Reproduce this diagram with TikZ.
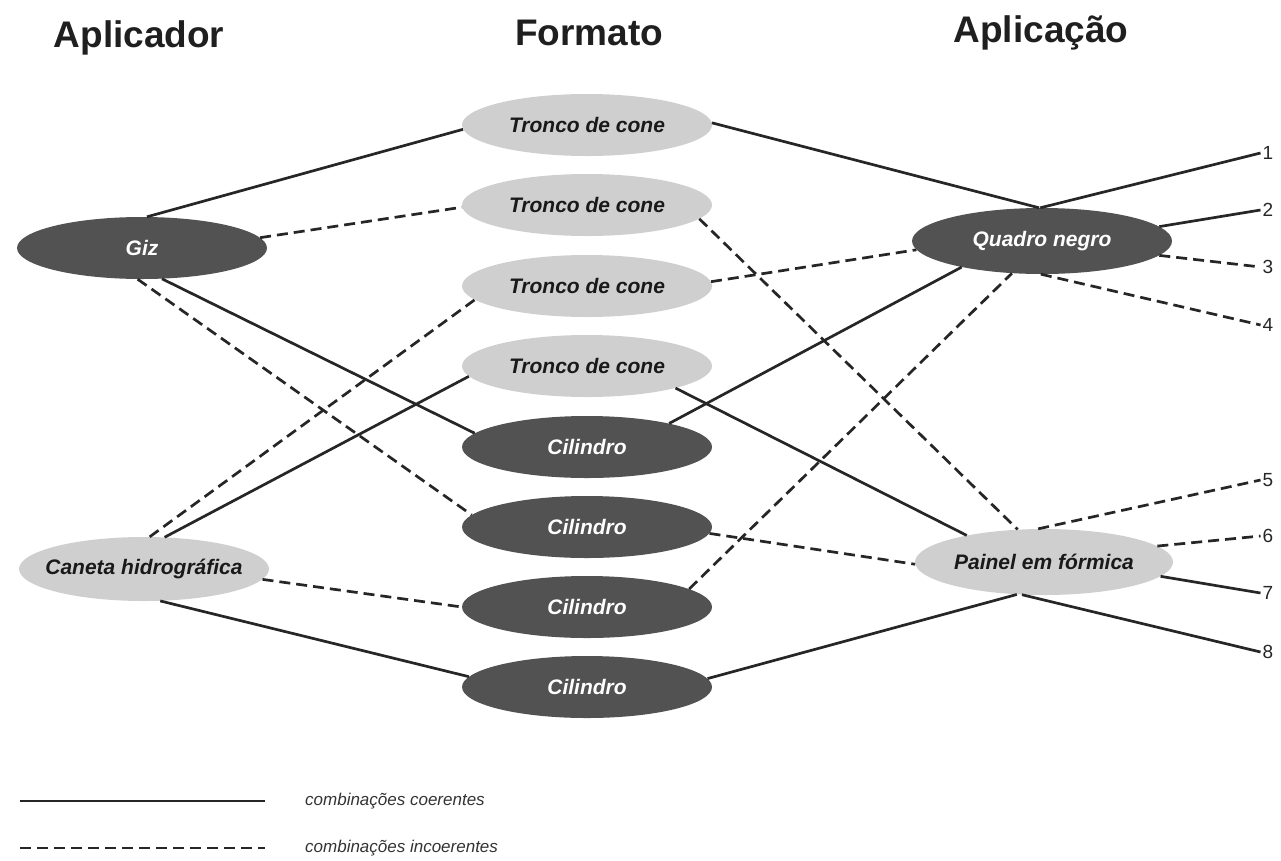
\documentclass[tikz,border=0pt]{standalone}
\usepackage{fontspec}
\setmainfont{Liberation Sans}
\usepackage{tikz}
\usetikzlibrary{shapes.geometric}

\begin{document}
\begin{tikzpicture}[x=1pt,y=-1pt]
	    \tikzstyle{dark}=[draw=none, ellipse, fill=black!68, text=white, minimum width=250pt, minimum height=62pt, inner sep=0pt, font=\fontsize{21}{24}\selectfont\bfseries\itshape]
	    \tikzstyle{light}=[dark, fill=black!19, text=black!90]
	    \tikzstyle{head}=[anchor=base, font=\fontsize{37}{40}\selectfont\bfseries, text=black!88]
	    \tikzstyle{num}=[inner sep=2pt, font=\fontsize{19}{22}\selectfont, text=black!85]
	    \tikzstyle{legtext}=[anchor=west, inner sep=0pt, font=\fontsize{17}{20}\selectfont\itshape, text=black!80]
	    \tikzstyle{coer}=[draw, line width=2.7pt, black!85]
	    \tikzstyle{incoer}=[coer, dash pattern=on 11pt off 6pt]
	    \useasboundingbox (0,0) rectangle (1281,860);
	    \node[head] (h1) at (139,47) {Aplicador};
	    \node[head] (h2) at (589,45) {Formato};
	    \node[head] (h3) at (1041,42) {Aplicação};
	    \node[dark] (giz) at (142,248) {Giz};
	    \node[light, inner xsep=-14pt, minimum height=64pt] (caneta) at (144,569) {Caneta hidrográfica};
	    \node[light] (t1) at (587,125) {Tronco de cone};
	    \node[light] (t2) at (587,205) {Tronco de cone};
	    \node[light] (t3) at (587,286) {Tronco de cone};
	    \node[light] (t4) at (587,366) {Tronco de cone};
	    \node[dark] (c1) at (587,447) {Cilindro};
	    \node[dark] (c2) at (587,527) {Cilindro};
	    \node[dark] (c3) at (587,607) {Cilindro};
	    \node[dark] (c4) at (587,687) {Cilindro};
	    \node[dark, minimum width=260pt, minimum height=66pt] (quadro) at (1042,241) {Quadro negro};
	    \node[light, minimum width=258pt, minimum height=66pt] (painel) at (1044,562) {Painel em fórmica};
	    \node[num] (n1) at (1268,153) {1};
	    \node[num] (n2) at (1268,210) {2};
	    \node[num] (n3) at (1268,267) {3};
	    \node[num] (n4) at (1268,325) {4};
	    \node[num] (n5) at (1268,480) {5};
	    \node[num] (n6) at (1268,536) {6};
	    \node[num] (n7) at (1268,593) {7};
	    \node[num] (n8) at (1268,652) {8};
	    % aplicador - formato
	    \draw[coer] (giz.81) -- (t1.182);
	    \draw[incoer] (giz.5) -- (t2.181);
	    \draw[coer] (giz.-57) -- (c1.173);
	    \draw[incoer] (giz.-98) -- (c2.174);
	    \draw[incoer] (caneta.80) -- (t3.187);
	    \draw[coer] (caneta.57) -- (t4.185);
	    \draw[incoer] (caneta.-5) -- (c3.180);
	    \draw[coer] (caneta.-63) -- (c4.175);
	    % formato - aplicacao
	    \draw[coer] (t1.1) -- (quadro.95);
	    \draw[incoer] (t2.-7) -- (painel.129);
	    \draw[incoer] (t3.2) -- (quadro.184);
	    \draw[coer] (t4.-14) -- (painel.161);
	    \draw[coer] (c1.16) -- (quadro.198);
	    \draw[incoer] (c2.-3) -- (painel.181);
	    \draw[incoer] (c3.10) -- (quadro.227);
	    \draw[coer] (c4.4) -- (painel.-130);
	    % aplicacao - numeros
	    \draw[coer] (quadro.93) -- (n1.west);
	    \draw[coer] (quadro.7) -- (n2.west);
	    \draw[incoer] (quadro.-7) -- (n3.west);
	    \draw[incoer] (quadro.-92) -- (n4.west);
	    \draw[incoer] (painel.100) -- (n5.west);
	    \draw[incoer] (painel.8) -- (n6.west);
	    \draw[coer] (painel.-7) -- (n7.west);
	    \draw[coer] (painel.-124) -- (n8.west);
	    % legenda
	    \coordinate (la) at (20,801);
	    \coordinate (lb) at (265,801);
	    \coordinate (lc) at (20,848);
	    \coordinate (ld) at (265,848);
	    \draw[coer] (la) -- (lb);
	    \draw[incoer] (lc) -- (ld);
	    \node[legtext] (l1) at (305,801) {combinações coerentes};
	    \node[legtext] (l2) at (305,848) {combinações incoerentes};
	\end{tikzpicture}
\end{document}
